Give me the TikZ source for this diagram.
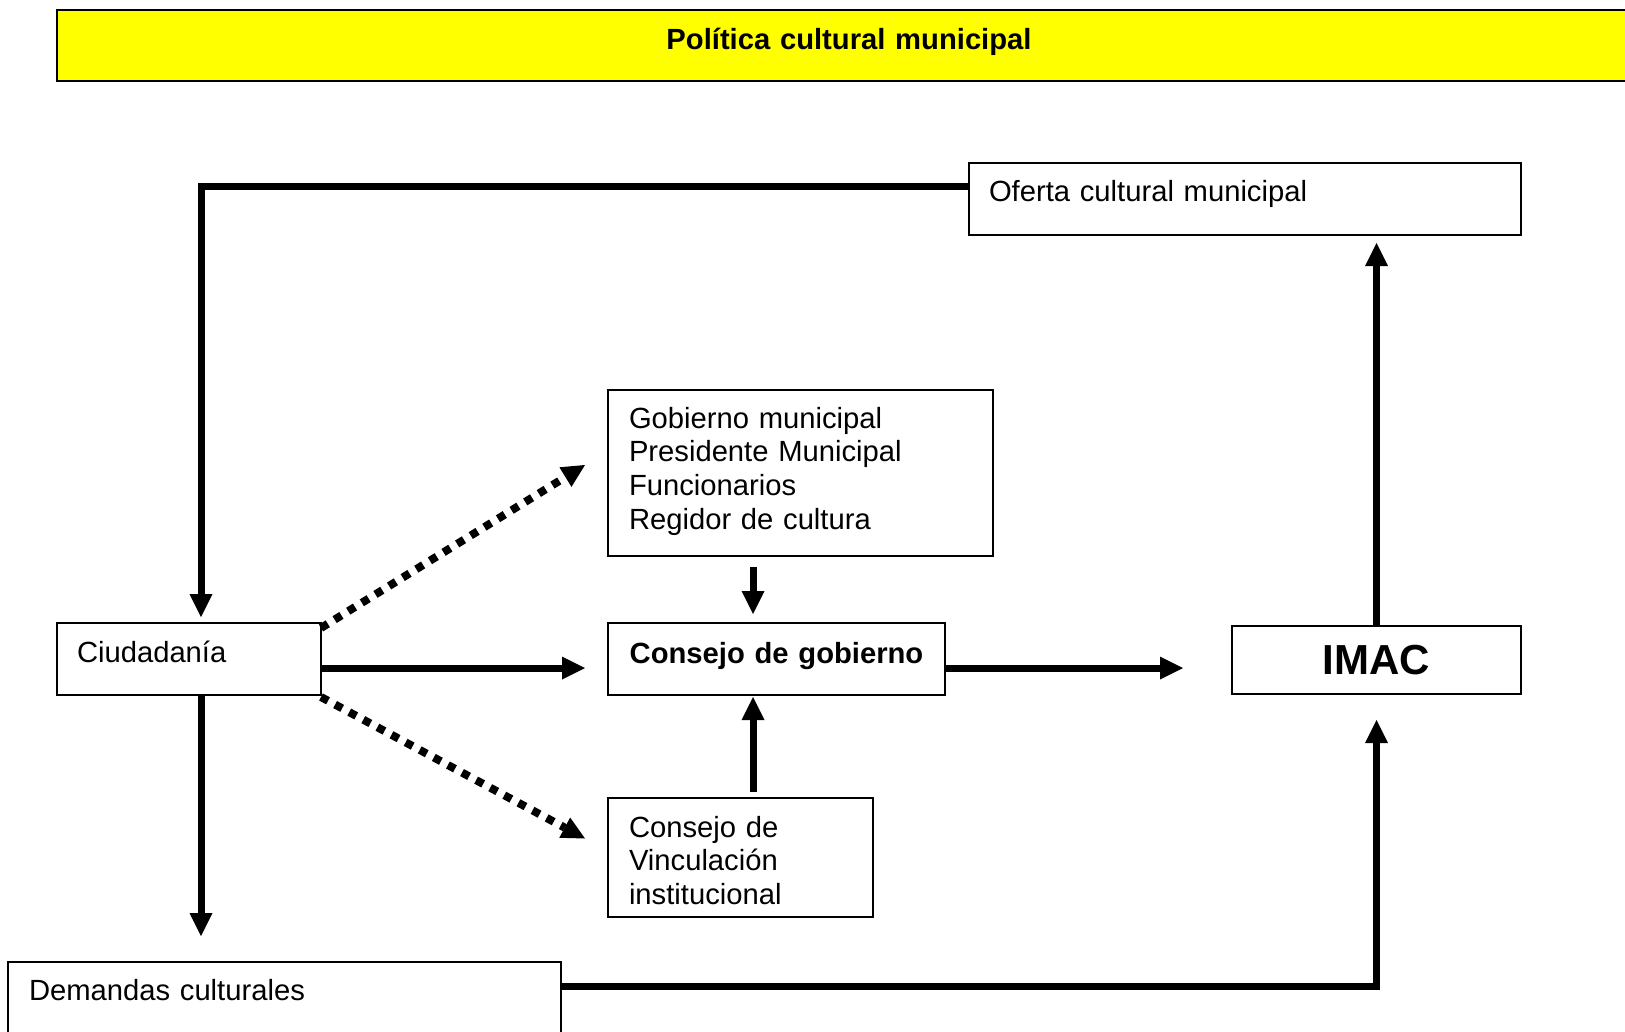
\documentclass[tikz,border=0pt]{standalone}
\usepackage{fontspec}
\setmainfont{Liberation Sans}
\usetikzlibrary{positioning,arrows.meta}

\definecolor{banner}{RGB}{255,255,0}
\newcommand{\txtsize}{\fontsize{29.2pt}{33.7pt}\selectfont}

\begin{document}
\begin{tikzpicture}[x=1pt,y=-1pt]
\useasboundingbox (0,0) rectangle (1625,1031);
\clip (0,0) rectangle (1625,1031);
% Draw Diagram
   \begin{scope}[ >={Triangle[length=23pt,width=23pt,line width=0pt]},
                   block/.style={rectangle,draw,line width=2pt,outer sep=0pt,inner ysep=0pt,
                                 anchor=north west,align=left,font=\txtsize},
                   arr/.style={->,line width=7pt},
                   dots/.style={->,line width=8pt,dash pattern=on 8pt off 8pt} ]
     \node [block,fill=banner,line width=2.5pt,inner xsep=0pt,text width=1584pt,align=center,
            text height=39pt,text depth=32pt,font=\txtsize\bfseries]
           (pol)  at (57,10)   {Política cultural municipal};
     \node [block,inner xsep=20pt,text width=512pt,text height=38pt,text depth=34pt]
           (ofe)  at (969,163) {Oferta cultural municipal};
     \node [block,inner xsep=21pt,text width=343pt,text height=38pt,text depth=128pt]
           (gob)  at (608,390) {Gobierno municipal\\Presidente Municipal\\Funcionarios\\Regidor de cultura};
     \node [block,inner xsep=10pt,text width=317pt,align=center,text height=40pt,text depth=32pt,
            font=\txtsize\bfseries]
           (cons) at (608,623) {Consejo de gobierno};
     \node [block,inner xsep=20pt,text width=224pt,text height=39pt,text depth=33pt]
           (ciu)  at (57,623)  {Ciudadanía};
     \node [block,inner xsep=21pt,text width=223pt,text height=39pt,text depth=80pt]
           (vin)  [below=103pt of cons.south west,anchor=north west]
                               {Consejo de\\Vinculación\\institucional};
     \node [block,inner sep=0pt,minimum width=289pt,minimum height=68pt,align=center,
            font=\fontsize{42pt}{48pt}\selectfont\bfseries]
           (imac) at (1232,626) {IMAC};
     \node [block,inner xsep=21pt,text width=511pt,text height=38pt,text depth=100pt]
           (dem)  at (8,962)   {Demandas culturales};
     % free ends of the connectors
     \coordinate (ciu-top) at ([xshift=12pt]ciu.north);
     \coordinate (ciu-bot) at ([xshift=12pt]ciu.south);
     \coordinate (mid)     at ([xshift=-23.5pt]cons.north);
     % connectors
     \draw [arr,shorten >=6pt]  ([yshift=13pt]ofe.west) -| (ciu-top);
     \draw [arr,shorten >=26pt] (ciu-bot) -- (ciu-bot |- dem.north);
     \draw [arr,shorten >=26pt] ([yshift=-24pt]dem.north east) -| (imac.south);
     \draw [arr,shorten >=8pt]  (imac.north) -- (imac.north |- ofe.south);
     \draw [arr] ([yshift=-9pt]ciu.east) -- ([xshift=-23pt,yshift=-9pt]cons.west);
     \draw [arr] ([yshift=-9pt]cons.east) -- ([xshift=-49pt,yshift=-8pt]imac.west);
     \draw [arr,shorten <=11pt,shorten >=9pt] (mid |- gob.south) -- (mid);
     \draw [arr,shorten <=6pt,shorten >=2pt]  (mid |- vin.north) -- (mid |- cons.south);
     \draw [dots] ([yshift=-5pt]ciu.north east) -- ([xshift=-23pt,yshift=8pt]gob.west);
     \draw [dots] ([yshift=-2pt]ciu.south east) -- ([xshift=-23pt,yshift=19pt]vin.west);
   \end{scope}
\end{tikzpicture}
\end{document}
